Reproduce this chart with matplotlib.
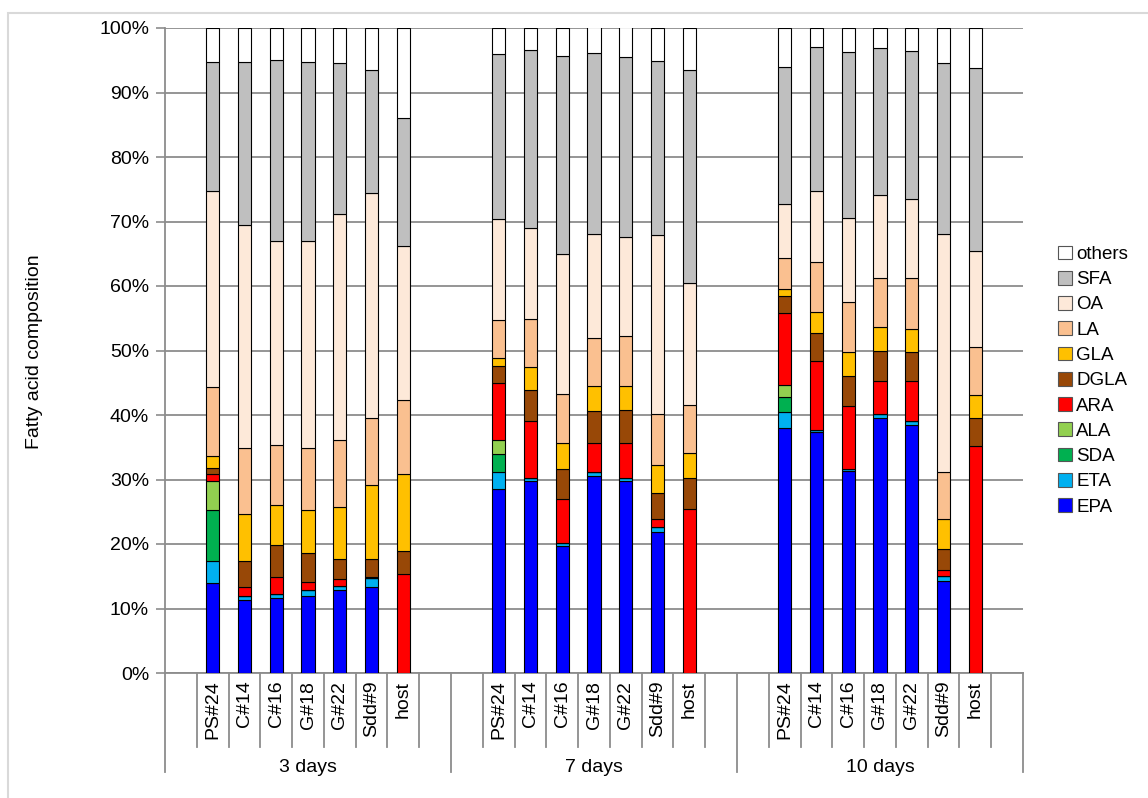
import matplotlib
matplotlib.use("Agg")
import matplotlib.pyplot as plt
from matplotlib.patches import Patch, Rectangle

plt.rcParams['font.family'] = ['Liberation Sans', 'DejaVu Sans']

# categories
samples = ['PS#24', 'C#14', 'C#16', 'G#18', 'G#22', 'Sdd#9', 'host']
groups = ['3 days', '7 days', '10 days']

# composition in % (3 days, 7 days, 10 days; samples in order above)
epa = [13.9, 11.3, 11.7, 11.9, 12.8, 13.3, 0,
       28.5, 29.8, 19.7, 30.5, 29.8, 21.8, 0,
       38.0, 37.4, 31.3, 39.5, 38.4, 14.3, 0]
eta = [3.4, 0.6, 0.6, 0.9, 0.7, 1.4, 0,
       2.7, 0.4, 0.4, 0.7, 0.5, 0.9, 0,
       2.4, 0.3, 0.4, 0.6, 0.6, 0.7, 0]
sda = [8.0, 0, 0, 0, 0, 0, 0,
       2.8, 0, 0, 0, 0, 0, 0,
       2.4, 0, 0, 0, 0, 0, 0]
ala = [4.5, 0, 0, 0, 0, 0, 0,
       2.1, 0, 0, 0, 0, 0, 0,
       1.9, 0, 0, 0, 0, 0, 0]
ara = [1.1, 1.5, 2.6, 1.3, 1.0, 0.2, 15.3,
       8.8, 8.8, 6.8, 4.4, 5.3, 1.1, 25.5,
       11.1, 10.6, 9.7, 5.2, 6.3, 1.0, 35.2]
dgla = [0.9, 3.9, 4.9, 4.5, 3.2, 2.8, 3.6,
        2.7, 4.8, 4.8, 5.0, 5.1, 4.1, 4.7,
        2.6, 4.4, 4.6, 4.6, 4.4, 3.3, 4.3]
gla = [1.9, 7.3, 6.2, 6.6, 8.0, 11.4, 11.9,
       1.3, 3.7, 4.0, 3.9, 3.8, 4.4, 3.9,
       1.1, 3.3, 3.7, 3.8, 3.7, 4.6, 3.6]
la = [10.7, 10.3, 9.3, 9.7, 10.4, 10.4, 11.6,
      5.9, 7.4, 7.6, 7.4, 7.7, 7.8, 7.5,
      4.9, 7.7, 7.8, 7.6, 7.8, 7.2, 7.4]
oa = [30.3, 34.5, 31.6, 32.1, 35.0, 34.9, 23.8,
      15.6, 14.1, 21.7, 16.1, 15.4, 27.8, 18.8,
      8.3, 11.0, 13.1, 12.8, 12.3, 37.0, 14.9]
sfa = [20.1, 25.3, 28.1, 27.7, 23.5, 19.1, 19.9,
       25.6, 27.6, 30.7, 28.1, 27.9, 27.0, 33.1,
       21.3, 22.4, 25.7, 22.8, 22.9, 26.5, 28.4]
others = [5.2, 5.3, 5.0, 5.3, 5.4, 6.5, 13.9,
          4.0, 3.4, 4.3, 4.1, 4.7, 5.1, 6.5,
          6.0, 2.9, 3.7, 3.1, 3.6, 5.4, 6.2]

series = [('EPA', epa, '#0000FF'), ('ETA', eta, '#00B0F0'), ('SDA', sda, '#00B050'),
          ('ALA', ala, '#92D050'), ('ARA', ara, '#FF0000'), ('DGLA', dgla, '#984807'),
          ('GLA', gla, '#FFC000'), ('LA', la, '#FAC090'), ('OA', oa, '#FDE9D9'),
          ('SFA', sfa, '#BFBFBF'), ('others', others, '#FFFFFF')]

W, H = 1148, 798
fig = plt.figure(figsize=(W / 100, H / 100), dpi=100)
ax = fig.add_axes([165 / W, 1 - 673 / H, (1023 - 165) / W, (673 - 28) / H])

# one empty slot before and after each group of 7 bars
xpos = [9 * g + 1 + j + 0.5 for g in range(3) for j in range(7)]

grey = '#8c8c8c'
bottom = [0.0] * len(xpos)
handles = []
for name, vals, col in series:
    ax.bar(xpos, vals, width=0.42, bottom=bottom, color=col,
           edgecolor='black', linewidth=0.8, zorder=3)
    bottom = [b + v for b, v in zip(bottom, vals)]
    handles.append(Patch(facecolor=col, edgecolor='#555555', linewidth=0.8, label=name))

ax.set_xlim(0, 27)
ax.set_ylim(0, 100)
ax.set_yticks(range(0, 101, 10))
ax.set_yticklabels([f'{v}%' for v in range(0, 101, 10)], fontsize=14)
ax.yaxis.grid(True, color=grey, linewidth=1.3)
ax.set_axisbelow(True)
ax.tick_params(axis='y', length=6.5, color=grey, width=1.2, pad=5)
ax.set_xticks([])
for s in ['top', 'right', 'bottom']:
    ax.spines[s].set_visible(False)
ax.spines['left'].set_color(grey)
ax.spines['left'].set_linewidth(1.3)

# multi-level category axis
tr = ax.get_xaxis_transform()
for g in range(3):
    for k in range(1, 9):
        ax.plot([9 * g + k] * 2, [0, -0.1147], color=grey, lw=1.3,
                transform=tr, clip_on=False)
for x in [0, 9, 18, 27]:
    ax.plot([x, x], [0, -0.1535], color=grey, lw=1.3, transform=tr, clip_on=False)
ax.plot([0, 27], [0, 0], color=grey, lw=1.3, transform=tr, clip_on=False, zorder=2)

for i, x in enumerate(xpos):
    ax.text(x, -0.012, samples[i % 7], rotation=90, ha='center', va='top',
            fontsize=14, transform=tr)
for g, name in enumerate(groups):
    ax.text(9 * g + 4.5, -0.147, name, ha='center', va='center',
            fontsize=14, transform=tr)

fig.text(35 / W, 1 - 352 / H, 'Fatty acid composition', rotation=90,
         ha='center', va='center', fontsize=14)

ax.legend(handles=handles[::-1], loc='upper left', bbox_to_anchor=(1050 / W, 1 - 238 / H),
          bbox_transform=fig.transFigure, frameon=False, fontsize=13.5,
          handlelength=0.75, handleheight=0.75, handletextpad=0.25,
          labelspacing=0.42, borderaxespad=0)

# light chart border
fig.patches.append(Rectangle((8 / W, -0.5), 2, 1 - 13 / H + 0.5, transform=fig.transFigure,
                             fill=False, edgecolor='#d9d9d9', linewidth=1.5))

fig.savefig('out.png', dpi=100)
